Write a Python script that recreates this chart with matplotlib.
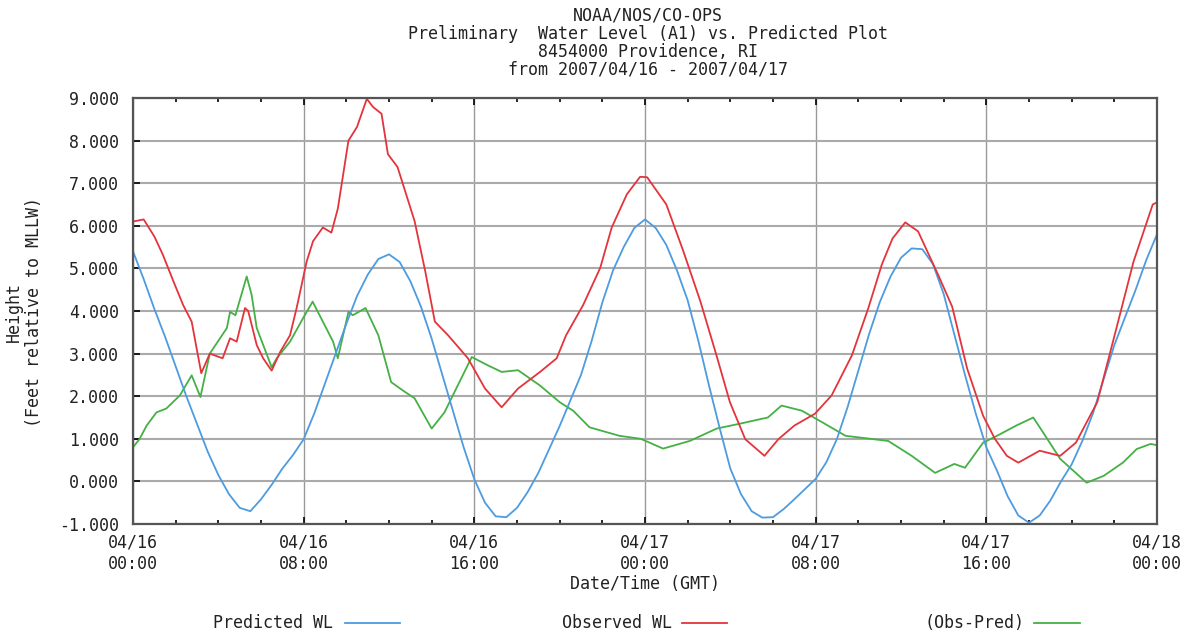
import matplotlib
matplotlib.use("Agg")
import matplotlib.pyplot as plt
from matplotlib.lines import Line2D
from matplotlib.ticker import MultipleLocator, FormatStrFormatter

# hours since 2007/04/16 00:00 GMT
pred_t = [0, 0.5, 1, 1.5, 2, 2.5, 3, 3.5, 4, 4.5, 5, 5.5, 6, 6.5, 7, 7.5, 8, 8.5, 9, 9.5,
          10, 10.5, 11, 11.5, 12, 12.5, 13, 13.5, 14, 14.5, 15, 15.5, 16, 16.5, 17, 17.5,
          18, 18.5, 19, 19.5, 20, 20.5, 21, 21.5, 22, 22.5, 23, 23.5, 24, 24.5, 25, 25.5,
          26, 26.5, 27, 27.5, 28, 28.5, 29, 29.5, 30, 30.5, 31, 31.5, 32, 32.5, 33, 33.5,
          34, 34.5, 35, 35.5, 36, 36.5, 37, 37.5, 38, 38.5, 39, 39.5, 40, 40.5, 41, 41.5,
          42, 42.5, 43, 43.5, 44, 44.5, 45, 45.5, 46, 46.5, 47, 47.5, 48]
pred_v = [5.40, 4.75, 4.05, 3.40, 2.70, 2.00, 1.35, 0.70, 0.15, -0.30, -0.62, -0.70, -0.42,
          -0.08, 0.30, 0.62, 0.99, 1.60, 2.30, 3.00, 3.70, 4.35, 4.85, 5.22, 5.33, 5.15,
          4.70, 4.10, 3.35, 2.50, 1.65, 0.80, 0.05, -0.50, -0.82, -0.84, -0.62, -0.25, 0.20,
          0.75, 1.30, 1.90, 2.50, 3.30, 4.20, 4.95, 5.50, 5.95, 6.15, 5.95, 5.55, 4.95,
          4.25, 3.30, 2.25, 1.25, 0.30, -0.30, -0.70, -0.85, -0.84, -0.65, -0.42, -0.18,
          0.06, 0.45, 1.00, 1.75, 2.60, 3.45, 4.20, 4.80, 5.25, 5.47, 5.45, 5.10, 4.40,
          3.45, 2.50, 1.60, 0.80, 0.25, -0.35, -0.80, -0.97, -0.80, -0.45, 0.00, 0.40,
          0.95, 1.60, 2.40, 3.20, 3.85, 4.50, 5.20, 5.80]

obs_t = [0.0, 0.5, 1.0, 1.4, 1.9, 2.35, 2.75, 2.98, 3.2, 3.6, 4.2, 4.55, 4.86, 5.25, 5.4,
         5.8, 6.1, 6.5, 6.9, 7.36, 7.67, 8.14, 8.44, 8.9, 9.3, 9.6, 10.1, 10.5, 10.96, 11.25,
         11.65, 11.95, 12.4, 13.2, 13.7, 14.15, 14.77, 15.7, 16.5, 17.28, 18.05, 19.08,
         19.86, 20.3, 21.1, 21.9, 22.44, 23.15, 23.77, 24.1, 25.0, 25.8, 26.6, 27.35, 27.98,
         28.7, 29.6, 30.25, 31.0, 31.97, 32.75, 33.7, 34.47, 35.1, 35.6, 36.2, 36.8, 37.74,
         38.4, 39.1, 39.85, 40.4, 40.96, 41.5, 42.5, 43.46, 44.2, 45.2, 46.1, 46.9, 47.8, 48.0]
obs_v = [6.10, 6.15, 5.75, 5.32, 4.69, 4.14, 3.75, 3.13, 2.54, 3.00, 2.89, 3.36, 3.28, 4.07,
         4.00, 3.20, 2.89, 2.60, 3.04, 3.43, 4.07, 5.16, 5.64, 5.96, 5.84, 6.40, 8.00, 8.32,
         8.98, 8.79, 8.63, 7.68, 7.38, 6.11, 4.93, 3.75, 3.43, 2.89, 2.18, 1.74, 2.18, 2.57,
         2.89, 3.43, 4.14, 5.01, 5.96, 6.74, 7.15, 7.14, 6.50, 5.40, 4.22, 2.96, 1.86, 0.99,
         0.60, 0.99, 1.31, 1.59, 2.02, 2.96, 4.07, 5.09, 5.70, 6.08, 5.87, 4.85, 4.10, 2.65,
         1.54, 1.00, 0.60, 0.44, 0.72, 0.60, 0.91, 1.86, 3.60, 5.16, 6.50, 6.55]

diff_t = [0.0, 0.3, 0.64, 1.1, 1.56, 2.2, 2.75, 3.16, 3.6, 4.4, 4.55, 4.8, 5.33, 5.56, 5.8,
          6.5, 6.74, 7.36, 7.97, 8.42, 8.9, 9.38, 9.6, 10.1, 10.3, 10.9, 11.5, 12.1, 12.75,
          13.2, 14.0, 14.6, 15.88, 16.65, 17.28, 18.05, 19.08, 20.0, 20.63, 21.4, 22.8, 23.8,
          24.85, 26.1, 27.36, 28.5, 29.3, 29.76, 30.4, 31.35, 32.3, 33.4, 35.4, 36.5, 37.6,
          38.5, 39.0, 39.85, 40.5, 41.4, 42.2, 42.66, 43.46, 44.7, 45.5, 46.4, 47.05, 47.7, 48.0]
diff_v = [0.80, 0.99, 1.31, 1.62, 1.71, 2.02, 2.49, 1.98, 3.00, 3.60, 3.98, 3.90, 4.81, 4.38,
          3.60, 2.68, 2.89, 3.28, 3.83, 4.22, 3.75, 3.28, 2.89, 3.98, 3.90, 4.07, 3.43, 2.33,
          2.10, 1.95, 1.24, 1.62, 2.92, 2.72, 2.57, 2.61, 2.25, 1.86, 1.66, 1.27, 1.07, 1.00,
          0.77, 0.95, 1.24, 1.36, 1.45, 1.50, 1.78, 1.66, 1.39, 1.07, 0.95, 0.60, 0.20, 0.41,
          0.32, 0.91, 1.07, 1.31, 1.50, 1.15, 0.53, -0.03, 0.13, 0.44, 0.76, 0.88, 0.85]

xtick_pos = [0, 8, 16, 24, 32, 40, 48]
xtick_labels = ["04/16\n00:00", "04/16\n08:00", "04/16\n16:00", "04/17\n00:00",
                "04/17\n08:00", "04/17\n16:00", "04/18\n00:00"]

title_lines = ["NOAA/NOS/CO-OPS",
               "Preliminary  Water Level (A1) vs. Predicted Plot",
               "8454000 Providence, RI",
               "from 2007/04/16 - 2007/04/17"]

c_pred = "#4d9be0"
c_obs = "#e3343c"
c_diff = "#45b045"
txt = "#222222"

plt.rcParams["font.family"] = ["DejaVu Sans Mono"]
plt.rcParams["font.size"] = 12

fig = plt.figure(figsize=(11.84, 6.33), dpi=100)
ax = fig.add_axes([133 / 1184, 1 - 524 / 633, 1024 / 1184, 426 / 633])

ax.plot(diff_t, diff_v, color=c_diff, lw=1.3)
ax.plot(pred_t, pred_v, color=c_pred, lw=1.3)
ax.plot(obs_t, obs_v, color=c_obs, lw=1.3)

ax.set_xlim(0, 48)
ax.set_ylim(-1, 9)
ax.set_xticks(xtick_pos)
ax.set_xticklabels(xtick_labels, color=txt)
ax.xaxis.set_minor_locator(MultipleLocator(2))
ax.yaxis.set_major_locator(MultipleLocator(1))
ax.yaxis.set_major_formatter(FormatStrFormatter("%.3f"))
for lab in ax.get_yticklabels():
    lab.set_color(txt)

ax.tick_params(axis="x", which="both", direction="in", top=True, length=5, width=1.2, pad=7)
ax.tick_params(axis="x", which="minor", length=3)
ax.tick_params(axis="y", direction="in", length=5, width=1.2, pad=10)

ax.grid(axis="y", color="#aaaaaa", lw=1.5)
ax.grid(axis="x", which="major", color="#999999", lw=1.0)
ax.set_axisbelow(True)
for s in ax.spines.values():
    s.set_color("#555555")
    s.set_linewidth(1.6)

fig.text(645 / 1184, 1 - 584 / 633, "Date/Time (GMT)", ha="center", va="center", color=txt)
fig.text(24 / 1184, 1 - 312 / 633, "Height\n(Feet relative to MLLW)", rotation=90,
         ha="center", va="center", multialignment="center", color=txt)

for i, line in enumerate(title_lines):
    fig.text(648 / 1184, 1 - (16 + i * 18) / 633, line, ha="center", va="center", color=txt)

# legend row at the bottom
legend_items = [("Predicted WL", c_pred, 333, 345, 400),
                ("Observed WL", c_obs, 672, 682, 727),
                ("(Obs-Pred)", c_diff, 1024, 1034, 1080)]
ly = 1 - 623 / 633
for label, col, tx, x0, x1 in legend_items:
    fig.text(tx / 1184, ly, label, ha="right", va="center", color=txt)
    fig.add_artist(Line2D([x0 / 1184, x1 / 1184], [ly, ly], color=col, lw=1.3,
                          transform=fig.transFigure))

fig.savefig("out.png", dpi=100)
